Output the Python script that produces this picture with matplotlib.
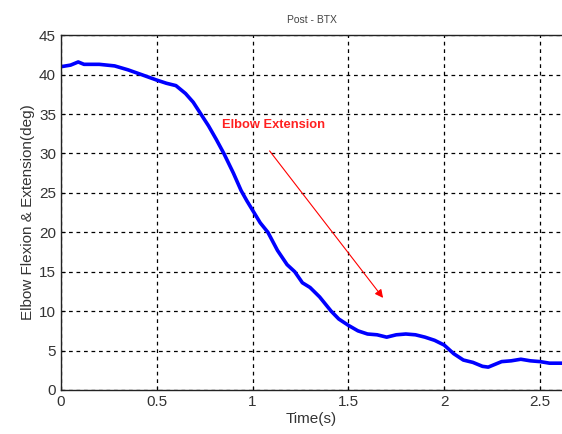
import matplotlib
matplotlib.use("Agg")
import matplotlib.pyplot as plt

t = [0.0, 0.05, 0.09, 0.12, 0.2, 0.28, 0.35, 0.42, 0.5, 0.55, 0.6, 0.65, 0.69, 0.73,
     0.77, 0.81, 0.85, 0.9, 0.94, 0.97, 1.0, 1.04, 1.08, 1.13, 1.18, 1.22, 1.26, 1.3, 1.35,
     1.41, 1.45, 1.5, 1.55, 1.6, 1.65, 1.7, 1.75, 1.8, 1.85, 1.9, 1.95, 2.0, 2.05,
     2.1, 2.15, 2.2, 2.23, 2.27, 2.3, 2.35, 2.4, 2.45, 2.5, 2.55, 2.62]
angle = [41.0, 41.2, 41.6, 41.3, 41.3, 41.1, 40.6, 40.0, 39.3, 38.9, 38.6, 37.6, 36.5, 35.0,
         33.5, 31.8, 30.0, 27.5, 25.3, 24.0, 22.8, 21.2, 20.0, 17.7, 15.9, 15.0, 13.6, 13.0, 11.8,
         10.0, 9.0, 8.2, 7.5, 7.1, 7.0, 6.7, 7.0, 7.1, 7.0, 6.7, 6.3, 5.7, 4.6,
         3.8, 3.5, 3.0, 2.9, 3.3, 3.6, 3.7, 3.9, 3.7, 3.6, 3.4, 3.4]
xticks = [0, 0.5, 1, 1.5, 2, 2.5]
xtick_labels = ["0", "0.5", "1", "1.5", "2", "2.5"]
yticks = [0, 5, 10, 15, 20, 25, 30, 35, 40, 45]

plt.rcParams['font.family'] = ['Liberation Sans', 'DejaVu Sans']

fig = plt.figure(figsize=(5.62, 4.34), dpi=100)
ax = fig.add_axes([0.1085, 0.1014, 0.8915, 0.8176])
ax.plot(t, angle, color='#0000ff', lw=2.6, solid_capstyle='butt')
ax.set_xlim(0, 2.615)
ax.set_ylim(0, 45)
ax.set_xticks(xticks)
ax.set_xticklabels(xtick_labels)
ax.set_yticks(yticks)
ax.tick_params(direction='in', labelsize=11, labelcolor='#333333', length=3)
ax.grid(True, color='black', linestyle=(0, (3, 3)), linewidth=0.9)
ax.spines['right'].set_visible(False)
for s in ['left', 'bottom', 'top']:
    ax.spines[s].set_linewidth(1.0)
    ax.spines[s].set_color('#222222')
ax.set_xlabel('Time(s)', fontsize=11, color='#333333', labelpad=2)
ax.set_ylabel('Elbow Flexion & Extension(deg)', fontsize=11, color='#333333', labelpad=3)
ax.set_title('Post - BTX', fontsize=7.5, color='#444444', pad=9)

ax.text(0.84, 33.6, 'Elbow Extension', color='#ff2020', fontsize=9.3,
        fontweight='bold', va='center', ha='left')
ax.annotate('', xy=(1.69, 11.4), xytext=(1.08, 30.6),
            arrowprops=dict(arrowstyle='-|>', color='#ff0000', lw=0.8,
                            mutation_scale=12))

fig.savefig('out.png', dpi=100)
